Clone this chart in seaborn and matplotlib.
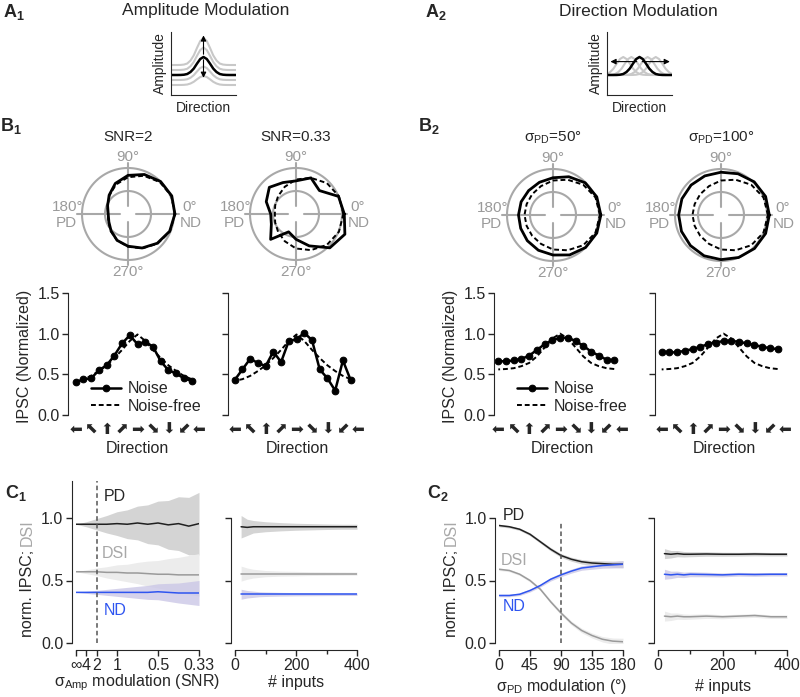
import numpy as np
import pandas as pd
import seaborn as sns
import matplotlib.pyplot as plt

sns.set_style('ticks')
plt.rcParams['font.family'] = ['Liberation Sans', 'DejaVu Sans']
plt.rcParams['mathtext.fontset'] = 'custom'
plt.rcParams['mathtext.rm'] = 'Liberation Sans'
plt.rcParams['mathtext.bf'] = 'Liberation Sans:bold'
plt.rcParams['mathtext.it'] = 'Liberation Sans:italic'

# ---- data ----
# A: schematic tuning bump
bump_pos = list(range(21))
bump_amp = [1.0, 1.0, 1.0, 1.003, 1.015, 1.05, 1.15, 1.32, 1.57, 1.80, 1.9,
            1.80, 1.57, 1.32, 1.15, 1.05, 1.015, 1.003, 1.0, 1.0, 1.0]
amp_scales = [1.5, 1.25, 0.75, 0.5]
dir_shifts = [-5, -2.5, 2.5, 5]

# B: polar plots (angle in deg, radius relative to outer ring)
polar_angles = [0, 22.5, 45, 67.5, 90, 112.5, 135, 157.5, 180,
                202.5, 225, 247.5, 270, 292.5, 315, 337.5]
polar_snr2 = [1.02, 1.03, 1.00, 0.93, 0.84, 0.72, 0.58, 0.48, 0.43,
              0.45, 0.52, 0.62, 0.70, 0.80, 0.90, 0.98]
polar_snr2_free = [1.02, 1.02, 0.98, 0.90, 0.80, 0.69, 0.57, 0.48, 0.44,
                   0.46, 0.53, 0.62, 0.71, 0.81, 0.91, 0.99]
polar_snr033 = [1.05, 1.00, 0.72, 0.85, 0.72, 0.74, 0.82, 0.70, 0.55,
                0.58, 0.78, 0.42, 0.55, 0.75, 1.04, 1.15]
polar_snr033_free = [1.03, 1.01, 0.95, 0.85, 0.75, 0.64, 0.55, 0.49, 0.46,
                     0.49, 0.55, 0.64, 0.75, 0.85, 0.95, 1.01]
polar_pd50 = [1.04, 1.03, 0.99, 0.90, 0.81, 0.77, 0.75, 0.75, 0.75,
              0.76, 0.79, 0.83, 0.87, 0.94, 1.00, 1.03]
polar_pd100 = [1.05, 1.05, 1.02, 0.97, 0.93, 0.92, 0.92, 0.92, 0.92,
               0.93, 0.94, 0.96, 0.97, 1.00, 1.03, 1.05]
polar_pd_free = [1.02, 1.00, 0.93, 0.83, 0.75, 0.68, 0.64, 0.62, 0.62,
                 0.62, 0.64, 0.68, 0.75, 0.83, 0.93, 1.00]

# B: tuning curves
directions = [180, 157.5, 135, 112.5, 90, 67.5, 45, 22.5, 0,
              -22.5, -45, -67.5, -90, -112.5, -135, -157.5]
arrow_ticks = [180, 135, 90, 45, 0, -45, -90, -135, -180]
arrow_labels = ['⬅', '⬉', '⬆', '⬈', '➡', '⬊', '⬇', '⬋', '⬅']
snr2_noise = [0.40, 0.44, 0.45, 0.55, 0.61, 0.73, 0.88, 0.98, 0.87,
              0.90, 0.84, 0.66, 0.55, 0.51, 0.45, 0.42]
snr033_noise = [0.43, 0.56, 0.69, 0.64, 0.60, 0.78, 0.65, 0.91, 0.93,
                1.01, 0.92, 0.56, 0.45, 0.30, 0.67, 0.43]
amp_free = [0.42, 0.44, 0.48, 0.54, 0.61, 0.70, 0.80, 0.91, 0.99,
            0.91, 0.80, 0.70, 0.61, 0.54, 0.48, 0.44]
pd50_noise = [0.66, 0.66, 0.67, 0.69, 0.73, 0.80, 0.87, 0.92, 0.95,
              0.95, 0.91, 0.85, 0.78, 0.73, 0.68, 0.67]
pd100_noise = [0.78, 0.77, 0.77, 0.79, 0.81, 0.84, 0.87, 0.89, 0.91,
               0.91, 0.90, 0.88, 0.86, 0.84, 0.82, 0.81]
dir_free = [0.56, 0.565, 0.575, 0.60, 0.64, 0.72, 0.83, 0.94, 1.0,
            0.94, 0.83, 0.72, 0.64, 0.60, 0.575, 0.565]

# C1: amplitude noise sweep (sigma = 1/SNR)
sigma = [0, 0.25, 0.5, 0.75, 1.0, 1.25, 1.5, 1.75, 2.0, 2.25, 2.5, 2.75, 3.0]
snr_ticks = [0, 0.25, 0.5, 1, 2, 3]
snr_labels = ['∞', '4', '2', '1', '0.5', '0.33']
c1_pd = [0.95, 0.95, 0.95, 0.95, 0.955, 0.95, 0.96, 0.95, 0.96, 0.945, 0.955, 0.935, 0.955]
c1_pd_sd = [0.0, 0.02, 0.045, 0.07, 0.095, 0.115, 0.135, 0.155, 0.175, 0.195, 0.215, 0.23, 0.25]
c1_dsi = [0.57, 0.57, 0.57, 0.565, 0.565, 0.56, 0.56, 0.555, 0.55, 0.55, 0.545, 0.545, 0.545]
c1_dsi_sd = [0.0, 0.015, 0.03, 0.045, 0.06, 0.07, 0.085, 0.1, 0.11, 0.125, 0.14, 0.155, 0.17]
c1_nd = [0.405, 0.405, 0.405, 0.405, 0.405, 0.405, 0.405, 0.405, 0.41, 0.405, 0.40, 0.40, 0.40]
c1_nd_sd = [0.0, 0.008, 0.016, 0.024, 0.032, 0.04, 0.048, 0.056, 0.064, 0.072, 0.08, 0.09, 0.1]

# C: number of inputs
inputs = [20, 40, 60, 80, 100, 150, 200, 250, 300, 350, 400]
c1n_pd = [0.93, 0.925, 0.93, 0.93, 0.93, 0.93, 0.93, 0.93, 0.93, 0.93, 0.93]
c1n_pd_sd = [0.09, 0.065, 0.05, 0.045, 0.04, 0.033, 0.028, 0.025, 0.022, 0.02, 0.02]
c1n_dsi = [0.555, 0.555, 0.555, 0.555, 0.555, 0.555, 0.555, 0.555, 0.555, 0.555, 0.555]
c1n_dsi_sd = [0.06, 0.045, 0.035, 0.03, 0.025, 0.02, 0.018, 0.015, 0.014, 0.013, 0.012]
c1n_nd = [0.39, 0.39, 0.39, 0.39, 0.39, 0.39, 0.39, 0.39, 0.39, 0.39, 0.39]
c1n_nd_sd = [0.04, 0.03, 0.025, 0.02, 0.018, 0.015, 0.013, 0.012, 0.011, 0.01, 0.01]

# C2: direction noise sweep
sigma_pd = [0, 15, 30, 45, 60, 75, 90, 105, 120, 135, 150, 165, 180]
c2_pd = [0.94, 0.93, 0.91, 0.87, 0.81, 0.75, 0.70, 0.67, 0.65, 0.64, 0.635, 0.63, 0.63]
c2_nd = [0.38, 0.38, 0.39, 0.42, 0.46, 0.51, 0.545, 0.575, 0.60, 0.61, 0.62, 0.625, 0.63]
c2_dsi = [0.59, 0.58, 0.55, 0.50, 0.43, 0.33, 0.24, 0.16, 0.10, 0.06, 0.03, 0.015, 0.01]
c2_sd = [0.01, 0.01, 0.01, 0.012, 0.012, 0.014, 0.015, 0.016, 0.018, 0.02, 0.022, 0.025, 0.028]
c2n_pd = [0.715, 0.71, 0.715, 0.71, 0.71, 0.712, 0.71, 0.71, 0.712, 0.71, 0.71]
c2n_nd = [0.55, 0.545, 0.55, 0.545, 0.55, 0.548, 0.545, 0.55, 0.548, 0.55, 0.55]
c2n_dsi = [0.215, 0.21, 0.215, 0.21, 0.21, 0.215, 0.21, 0.215, 0.22, 0.21, 0.21]
c2n_sd = [0.04, 0.03, 0.025, 0.022, 0.02, 0.018, 0.016, 0.015, 0.015, 0.014, 0.014]

# ---- styling ----
BLUE = '#2f55f0'
LAVENDER = '#cbc7e6'
GREY = '#9a9a9a'
RING = '#a8a8a8'
W, H = 800, 697
FS = 11.5

fig = plt.figure(figsize=(8, 6.97), dpi=100)


def box(x, y, w, h, **kw):
    return fig.add_axes([x / W, 1 - (y + h) / H, w / W, h / H], **kw)


def ftext(x, y, s, **kw):
    kw.setdefault('ha', 'center')
    kw.setdefault('va', 'center')
    fig.text(x / W, 1 - y / H, s, **kw)


def panel_label(x, y, letter, num):
    ftext(x, y, r'$\mathbf{%s}_{\mathbf{%s}}$' % (letter, num), fontsize=13, ha='left')


# ---- A: schematics ----
def schematic(x0, kind):
    ax = box(x0, 32, 65, 63)
    df = pd.DataFrame({'pos': bump_pos, 'amp': bump_amp})
    if kind == 'amp':
        for s in amp_scales:
            ax.plot(df['pos'], df['amp'] * s, color='#c8c8c8', lw=1.5)
    else:
        for s in dir_shifts:
            ax.plot(df['pos'] + s, df['amp'], color='#c8c8c8', lw=1.5)
    sns.lineplot(data=df, x='pos', y='amp', ax=ax, color='k', lw=1.8)
    ax.set_xlim(0, 20)
    ax.set_ylim(0, 3.15)
    ax.set_xticks([])
    ax.set_yticks([])
    sns.despine(ax=ax)
    ax.set_xlabel('Direction', fontsize=10, labelpad=4)
    ax.set_ylabel('Amplitude', fontsize=10, labelpad=3)
    ap = dict(arrowstyle='-|>', color='k', lw=0.8, mutation_scale=8)
    if kind == 'amp':
        ax.annotate('', xy=(10, 3.12), xytext=(10, 1.9), arrowprops=ap)
        ax.annotate('', xy=(10, 0.72), xytext=(10, 1.9), arrowprops=ap)
    else:
        ax.annotate('', xy=(0.2, 1.67), xytext=(10, 1.67), arrowprops=ap, annotation_clip=False)
        ax.annotate('', xy=(20.2, 1.67), xytext=(10, 1.67), arrowprops=ap, annotation_clip=False)


schematic(171, 'amp')
schematic(607, 'dir')
panel_label(3, 12, 'A', '1')
panel_label(425, 12, 'A', '2')
ftext(206, 11, 'Amplitude Modulation', fontsize=12.5)
ftext(638, 11, 'Direction Modulation', fontsize=12.5)


# ---- B: polar plots ----
def polar(cx, cy, noise, free, title):
    R = 46
    ax = box(cx - 1.3 * R, cy - 1.3 * R, 2.6 * R, 2.6 * R)
    ax.set_xlim(-1.3, 1.3)
    ax.set_ylim(-1.3, 1.3)
    ax.axis('off')
    ring = np.linspace(0, 2 * np.pi, 200)
    for rr in [1.0, 0.5]:
        ax.plot(rr * np.cos(ring), rr * np.sin(ring), color=RING, lw=1.5)
    for a in [0, 90, 180, 270]:
        t = np.deg2rad(a)
        ax.plot([0.18 * np.cos(t), 1.1 * np.cos(t)], [0.18 * np.sin(t), 1.1 * np.sin(t)],
                color=RING, lw=1.5)
    th = np.deg2rad(polar_angles + [polar_angles[0]])
    for vals, ls, lw in [(free, (0, (2.5, 1.5)), 1.4), (noise, '-', 2.0)]:
        r = np.array(vals + [vals[0]])
        ax.plot(r * np.cos(th), r * np.sin(th), color='k', ls=ls, lw=lw)
    ftext(cx, cy - 57, '90°', color=GREY, fontsize=11)
    ftext(cx, cy + 58, '270°', color=GREY, fontsize=11)
    ftext(cx - 60, cy - 7, '180°', color=GREY, fontsize=11)
    ftext(cx - 62, cy + 9, 'PD', color=GREY, fontsize=11)
    ftext(cx + 62, cy - 7, '0°', color=GREY, fontsize=11)
    ftext(cx + 63, cy + 9, 'ND', color=GREY, fontsize=11)
    ftext(cx, cy - 77, title, fontsize=11)


polar(128, 214, polar_snr2, polar_snr2_free, 'SNR=2')
polar(296, 214, polar_snr033, polar_snr033_free, 'SNR=0.33')
polar(553, 215, polar_pd50, polar_pd_free, r'σ$_{\mathrm{PD}}$=50°')
polar(721, 215, polar_pd100, polar_pd_free, r'σ$_{\mathrm{PD}}$=100°')
panel_label(0, 126, 'B', '1')
panel_label(418, 126, 'B', '2')


# ---- B: tuning curves ----
def tuning(x0, gap, noise, free, ylab, legend):
    scale = 0.3435
    w = gap + 360 * scale + 8
    ax = box(x0, 293, w, 126)
    df = pd.DataFrame({'dir': directions, 'Noise': noise, 'Noise-free': free})
    sns.lineplot(data=df, x='dir', y='Noise', ax=ax, color='k', lw=1.8,
                 marker='o', markersize=4.8, markeredgecolor='k', label='Noise')
    sns.lineplot(data=df, x='dir', y='Noise-free', ax=ax, color='k', lw=1.4,
                 ls=(0, (2.5, 1.5)), label='Noise-free')
    ax.set_xlim(180 + gap / scale, 180 + gap / scale - w / scale)
    ax.set_ylim(-0.05, 1.5)
    ax.set_yticks([0, 0.5, 1.0, 1.5])
    ax.set_xticks(arrow_ticks)
    ax.set_xticklabels(arrow_labels, fontsize=11, family='DejaVu Sans')
    ax.tick_params(axis='x', length=0, pad=2)
    ax.tick_params(axis='y', length=4, width=1, labelsize=FS, pad=2)
    sns.despine(ax=ax, bottom=True)
    ax.spines['left'].set_bounds(0, 1.5)
    ax.set_xlabel('Direction', fontsize=FS, labelpad=3)
    if ylab:
        ax.set_ylabel('IPSC (Normalized)', fontsize=FS, labelpad=4)
        ax.yaxis.set_major_formatter(plt.FormatStrFormatter('%.1f'))
    else:
        ax.set_ylabel('')
        ax.set_yticklabels([])
    if legend:
        ax.legend(loc='lower left', bbox_to_anchor=(0.12, -0.01), frameon=False,
                  fontsize=FS, handlelength=1.9, handletextpad=0.4, labelspacing=0.15,
                  borderaxespad=0)
    else:
        ax.get_legend().remove()


tuning(68, 7.7, snr2_noise, amp_free, True, True)
tuning(228, 6.7, snr033_noise, amp_free, False, False)
tuning(494, 4.3, pd50_noise, dir_free, True, True)
tuning(655, 6.7, pd100_noise, dir_free, False, False)


# ---- C ----
def c_axes(x0, w, xlim, yspine_top):
    ax = box(x0, 480.5, w, 162.5)
    ax.set_xlim(*xlim)
    ax.set_ylim(0, 1.3)
    sns.despine(ax=ax)
    ax.spines['left'].set_position(('outward', 3))
    ax.spines['bottom'].set_position(('outward', 5))
    ax.spines['left'].set_bounds(0, yspine_top)
    ax.spines['bottom'].set_bounds(*xlim)
    ax.set_yticks([0, 0.5, 1.0])
    ax.tick_params(length=4, width=1, labelsize=FS, pad=2)
    return ax


def c_lines(ax, x, pd_m, pd_sd, dsi_m, dsi_sd, nd_m, nd_sd):
    ax.fill_between(x, np.array(pd_m) - pd_sd, np.array(pd_m) + pd_sd, color='#d4d4d4', lw=0)
    ax.fill_between(x, np.array(dsi_m) - dsi_sd, np.array(dsi_m) + dsi_sd, color='#ececec', lw=0)
    ax.fill_between(x, np.array(nd_m) - nd_sd, np.array(nd_m) + nd_sd, color=LAVENDER, lw=0, alpha=0.8)
    df = pd.DataFrame({'x': x, 'pd': pd_m, 'dsi': dsi_m, 'nd': nd_m})
    sns.lineplot(data=df, x='x', y='pd', ax=ax, color='#202020', lw=1.1)
    sns.lineplot(data=df, x='x', y='dsi', ax=ax, color=GREY, lw=1.1)
    sns.lineplot(data=df, x='x', y='nd', ax=ax, color=BLUE, lw=1.1)
    ax.set_xlabel('')
    ax.set_ylabel('')


def c_ylabel(x):
    fig.text(x / W, 1 - 637 / H, 'norm. IPSC; ', rotation=90, rotation_mode='anchor',
             ha='left', va='center', fontsize=FS)
    fig.text(x / W, 1 - 519 / H, 'DSI', rotation=90, rotation_mode='anchor',
             ha='right', va='center', fontsize=FS, color='#a8a8a8')


# C1 left
ax = c_axes(76, 123, (0, 3), 1.3)
c_lines(ax, sigma, c1_pd, c1_pd_sd, c1_dsi, c1_dsi_sd, c1_nd, c1_nd_sd)
ax.axvline(0.5, color='#555555', ls=(0, (3, 2)), lw=1.1)
ax.set_xticks(snr_ticks)
ax.set_xticklabels(snr_labels)
ax.yaxis.set_major_formatter(plt.FormatStrFormatter('%.1f'))
ax.text(0.95, 1.17, 'PD', fontsize=FS, ha='center', va='center')
ax.text(0.95, 0.72, 'DSI', fontsize=FS, ha='center', va='center', color='#a8a8a8')
ax.text(0.95, 0.26, 'ND', fontsize=FS, ha='center', va='center', color=BLUE)
c_ylabel(27)
ftext(137, 683, r'σ$_{\mathrm{Amp}}$ modulation (SNR)', fontsize=FS)

# C1 right
ax = c_axes(235, 122, (0, 400), 1.0)
c_lines(ax, inputs, c1n_pd, c1n_pd_sd, c1n_dsi, c1n_dsi_sd, c1n_nd, c1n_nd_sd)
ax.set_xticks([0, 200, 400])
ax.set_xticks([100, 300], minor=True)
ax.tick_params(which='minor', length=3, width=1)
ax.set_yticklabels([])
ftext(296, 683, '# inputs', fontsize=FS)

# C2 left
ax = c_axes(499, 124, (0, 180), 1.0)
c_lines(ax, sigma_pd, c2_pd, c2_sd, c2_dsi, c2_sd, c2_nd, c2_sd)
ax.plot([90, 90], [0, 0.98], color='#555555', ls=(0, (3, 2)), lw=1.1)
ax.set_xticks([0, 45, 90, 135, 180])
ax.yaxis.set_major_formatter(plt.FormatStrFormatter('%.1f'))
ax.text(22, 1.02, 'PD', fontsize=FS, ha='center', va='center')
ax.text(22, 0.66, 'DSI', fontsize=FS, ha='center', va='center', color='#a8a8a8')
ax.text(22, 0.29, 'ND', fontsize=FS, ha='center', va='center', color=BLUE)
c_ylabel(451)
ftext(562, 687, r'σ$_{\mathrm{PD}}$ modulation (°)', fontsize=FS)

# C2 right
ax = c_axes(658, 129, (0, 400), 1.0)
c_lines(ax, inputs, c2n_pd, c2n_sd, c2n_dsi, c2n_sd, c2n_nd, c2n_sd)
ax.set_xticks([0, 200, 400])
ax.set_xticks([100, 300], minor=True)
ax.tick_params(which='minor', length=3, width=1)
ax.set_yticklabels([])
ftext(723, 687, '# inputs', fontsize=FS)

panel_label(5, 493, 'C', '1')
panel_label(427, 493, 'C', '2')

fig.savefig('out.png', dpi=100)
